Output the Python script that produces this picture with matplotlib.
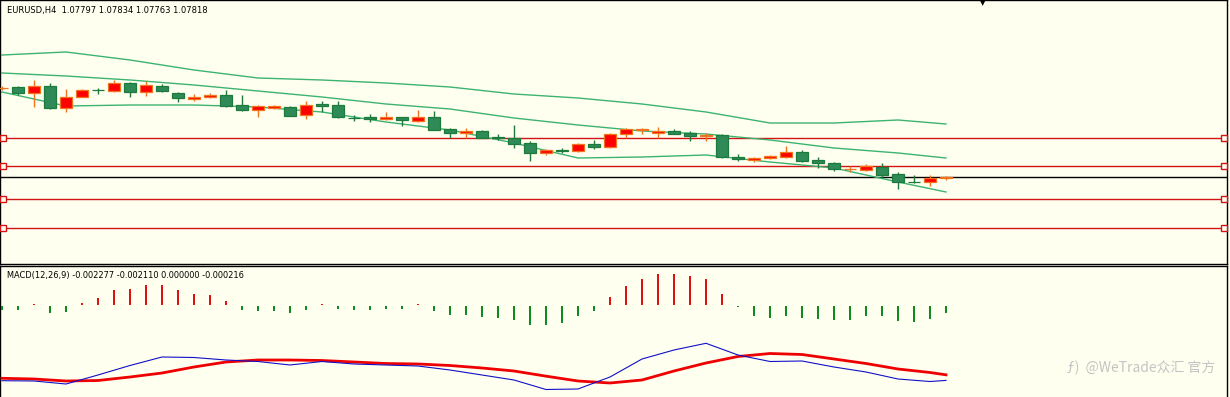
import matplotlib
matplotlib.use('Agg')
import matplotlib.pyplot as plt
import numpy as np

# ---------------- data ----------------
symbol_title = 'EURUSD,H4  1.07797 1.07834 1.07763 1.07818'
macd_title = 'MACD(12,26,9) -0.002277 -0.002110 0.000000 -0.000216'
watermark = '@WeTrade众汇 官方'

opens = [1.09598, 1.09618, 1.09498, 1.09638, 1.09198, 1.09418, 1.09558, 1.09528, 1.09698, 1.09508,
         1.09638, 1.09498, 1.09378, 1.09418, 1.09458, 1.09248, 1.09158, 1.09188, 1.09218, 1.09058,
         1.09268, 1.09258, 1.08998, 1.09008, 1.08968, 1.09018, 1.08938, 1.09018, 1.08778, 1.08688,
         1.08738, 1.08618, 1.08588, 1.08498, 1.08298, 1.08348, 1.08328, 1.08478, 1.08428, 1.08668,
         1.08758, 1.08698, 1.08738, 1.08688, 1.08648, 1.08658, 1.08218, 1.08158, 1.08188, 1.08228,
         1.08318, 1.08148, 1.08088, 1.07968, 1.07958, 1.08028, 1.07868, 1.07718, 1.07708, 1.07797]
highs = [1.09638, 1.09638, 1.09758, 1.09698, 1.09578, 1.09578, 1.09598, 1.09758, 1.09718, 1.09738,
         1.09678, 1.09518, 1.09478, 1.09488, 1.09558, 1.09458, 1.09258, 1.09258, 1.09238, 1.09338,
         1.09328, 1.09338, 1.09058, 1.09078, 1.09108, 1.09028, 1.09158, 1.09128, 1.08788, 1.08808,
         1.08758, 1.08678, 1.08858, 1.08538, 1.08378, 1.08388, 1.08488, 1.08548, 1.08698, 1.08788,
         1.08788, 1.08818, 1.08768, 1.08738, 1.08688, 1.08678, 1.08268, 1.08218, 1.08258, 1.08438,
         1.08348, 1.08218, 1.08108, 1.08038, 1.08078, 1.08098, 1.07908, 1.07858, 1.07858, 1.07834]
lows = [1.09558, 1.09458, 1.09218, 1.09178, 1.09118, 1.09408, 1.09478, 1.09508, 1.09428, 1.09448,
        1.09508, 1.09308, 1.09338, 1.09388, 1.09208, 1.09138, 1.09008, 1.09168, 1.09038, 1.08968,
        1.09108, 1.08988, 1.08928, 1.08908, 1.08948, 1.08838, 1.08908, 1.08748, 1.08598, 1.08608,
        1.08598, 1.08558, 1.08388, 1.08128, 1.08248, 1.08288, 1.08308, 1.08378, 1.08388, 1.08598,
        1.08678, 1.08598, 1.08668, 1.08528, 1.08528, 1.08188, 1.08128, 1.08108, 1.08168, 1.08208,
        1.08118, 1.08008, 1.07938, 1.07908, 1.07928, 1.07798, 1.07578, 1.07688, 1.07638, 1.07763]
closes = [1.09603, 1.09498, 1.09638, 1.09198, 1.09418, 1.09558, 1.09548, 1.09688, 1.09508, 1.09648,
          1.09528, 1.09388, 1.09418, 1.09458, 1.09248, 1.09158, 1.09238, 1.09228, 1.09048, 1.09258,
          1.09248, 1.09008, 1.08988, 1.08968, 1.09018, 1.08948, 1.09018, 1.08758, 1.08698, 1.08738,
          1.08608, 1.08588, 1.08478, 1.08298, 1.08358, 1.08328, 1.08478, 1.08428, 1.08668, 1.08768,
          1.08768, 1.08738, 1.08678, 1.08648, 1.08658, 1.08218, 1.08168, 1.08198, 1.08238, 1.08308,
          1.08128, 1.08088, 1.07978, 1.07978, 1.08028, 1.07858, 1.07718, 1.07708, 1.07797, 1.07818]

band_idx = [0, 4, 8, 12, 16, 20, 24, 28, 32, 36, 40, 44, 48, 52, 56, 59]
band_upper = [1.10258, 1.10318, 1.10158, 1.09958, 1.09798, 1.09758, 1.09698, 1.09618,
              1.09478, 1.09398, 1.09278, 1.09118, 1.08898, 1.08898, 1.08958, 1.08878]
band_mid = [1.09898, 1.09838, 1.09758, 1.09658, 1.09538, 1.09418, 1.09278, 1.09178,
            1.08998, 1.08858, 1.08738, 1.08678, 1.08558, 1.08398, 1.08298, 1.08198]
band_lower = [1.09518, 1.09238, 1.09258, 1.09258, 1.09218, 1.09118, 1.08918, 1.08758,
              1.08498, 1.08198, 1.08218, 1.08258, 1.08118, 1.07998, 1.07718, 1.07518]

levels = [1.08592, 1.08032, 1.07372, 1.06792]
current_price = 1.07818

hist = [-0.00012, -0.00012, 0.00003, -0.000225, -0.00018, 0.00006, 0.0002, 0.000435, 0.000465, 0.000585,
        0.000585, 0.000435, 0.00033, 0.000285, 0.000105, -0.00012, -0.00015, -0.00015, -0.000225, -0.00012,
        0.00002, -0.00009, -0.00012, -0.00012, -0.00009, -0.00009, 0.00002, -0.00015, -0.000285, -0.000285,
        -0.00033, -0.00036, -0.000435, -0.00057, -0.00057, -0.00051, -0.0003, -0.00015, 0.00024, 0.00057,
        0.00078, 0.00093, 0.000915, 0.000855, 0.000765, 0.000315, -0.00005, -0.0003, -0.00036, -0.0003,
        -0.00036, -0.00039, -0.00042, -0.00042, -0.0003, -0.000315, -0.000465, -0.00048, -0.00039, -0.000216]

line_idx = [0, 2, 4, 6, 8, 10, 12, 14, 16, 18, 20, 22, 24, 26, 28, 30, 32, 34, 36, 38,
            40, 42, 44, 46, 48, 50, 52, 54, 56, 58, 59]
macd_main = [-0.002286, -0.002295, -0.002385, -0.002115, -0.00183, -0.001575, -0.00159, -0.001665,
             -0.00171, -0.001815, -0.00171, -0.001785, -0.001815, -0.001845, -0.001965, -0.002115,
             -0.002265, -0.00255, -0.002535, -0.002175, -0.001635, -0.001365, -0.001164, -0.001515,
             -0.00171, -0.001695, -0.001875, -0.002025, -0.002235, -0.00231, -0.002277]
macd_signal = [-0.002214, -0.002235, -0.002295, -0.00228, -0.002175, -0.002055, -0.001875, -0.001725,
               -0.001665, -0.001665, -0.00168, -0.001725, -0.00177, -0.001785, -0.00183, -0.001905,
               -0.001995, -0.00215, -0.002295, -0.002355, -0.002265, -0.001995, -0.001755, -0.00156,
               -0.00147, -0.0015, -0.001635, -0.00177, -0.001935, -0.00204, -0.00211]

# ---------------- style ----------------
W, H = 1230, 397
bg = '#FFFFF0'
bull_body = '#FF0000'
bull_line = '#F0741E'
bear_body = '#2E8B57'
bear_line = '#1E7A3C'
band_col = '#3CB371'
level_col = '#D21414'

fig = plt.figure(figsize=(W / 100, H / 100), dpi=100)
fig.patch.set_facecolor(bg)


def px_axes(x0, y0, x1, y1):
    return fig.add_axes([x0 / W, 1 - y1 / H, (x1 - x0) / W, (y1 - y0) / H])


ax = px_axes(0, 0, 1227, 264)
sub = px_axes(0, 266, 1227, 397)
for a in (ax, sub):
    a.set_facecolor(bg)
    a.set_xticks([])
    a.set_yticks([])
    for s in a.spines.values():
        s.set_color('black')
        s.set_linewidth(1.0)
sub.spines['bottom'].set_visible(False)

xl = (-2 / 16, (1227 - 2) / 16)
ax.set_xlim(*xl)
sub.set_xlim(*xl)
ax.set_ylim(1.11358 - 0.0002 * 264, 1.11358)
sub.set_ylim(-92.5 * 0.00003, 38.5 * 0.00003)

n = len(opens)
x = np.arange(n)
o = np.array(opens); c = np.array(closes); h = np.array(highs); l = np.array(lows)
up = c >= o

# bands
for band in (band_upper, band_mid, band_lower):
    ax.plot(band_idx, band, color=band_col, lw=1.0, zorder=2)

# levels
for lv in levels:
    ax.axhline(lv, color=level_col, lw=1.0, zorder=1)
    ax.plot([xl[0] + 0.19, xl[1] - 0.19], [lv, lv], ls='none', marker='s', ms=4,
            mfc=bg, mec=level_col, mew=1.0, zorder=5, clip_on=False)
ax.axhline(current_price, color='black', lw=1.0, zorder=1)

# wicks
ax.vlines(x[up], l[up], h[up], color=bull_line, lw=1.0, zorder=3)
ax.vlines(x[~up], l[~up], h[~up], color=bear_line, lw=1.0, zorder=3)
# bodies
bw = 0.69
ax.bar(x[up], (c - o)[up], bottom=o[up], width=bw, color=bull_body,
       edgecolor=bull_line, linewidth=0.9, zorder=4)
ax.bar(x[~up], (o - c)[~up], bottom=c[~up], width=bw, color=bear_body,
       edgecolor=bear_line, linewidth=0.9, zorder=4)

# chart shift marker
fig.text(983 / W, 1 - 3 / H, '▼', fontsize=5, ha='center', va='center', color='black')

# MACD
hv = np.array(hist)
pos = hv > 0
sub.bar(x[pos], hv[pos], width=0.13, color='#E01010', zorder=3)
sub.bar(x[~pos], hv[~pos], bottom=-0.00003, width=0.13, color='#0E8A1E', zorder=3)
sub.plot(line_idx, macd_signal, color='#EE0000', lw=2.0, zorder=4)
sub.plot(line_idx, macd_main, color='#1010C8', lw=0.8, zorder=5)

fig.text(7 / W, 1 - 10.5 / H, symbol_title, fontsize=6.0, ha='left', va='center', color='black',
         family='DejaVu Sans')
fig.text(7 / W, 1 - 275.5 / H, macd_title, fontsize=5.95, ha='left', va='center', color='black',
         family='DejaVu Sans')
fig.text(1215 / W, 1 - 368 / H, 'ƒ)  ' + watermark, fontsize=10, ha='right', va='center',
         color='#C4C4C4', family=['Noto Sans CJK SC', 'DejaVu Sans'])

fig.savefig('out.png', dpi=100, facecolor=bg)
